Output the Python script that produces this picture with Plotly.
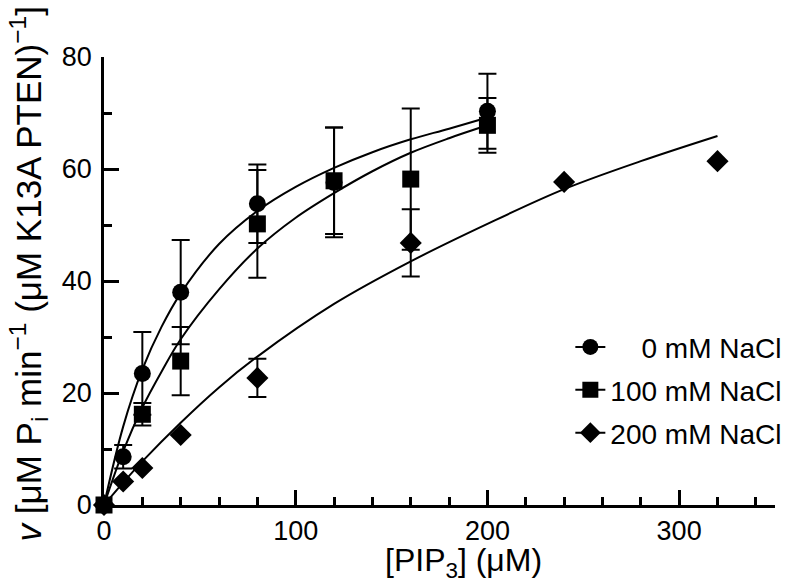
import plotly.graph_objects as go

conc_0 = [0, 10, 20, 40, 80, 120, 200]
v_0 = [0, 8.6, 23.5, 38.0, 53.8, 57.6, 70.3]
err_0 = [None, 2.1, 7.4, 9.3, 7.0, 9.8, 6.7]

conc_100 = [0, 20, 40, 80, 120, 160, 200]
v_100 = [0, 16.2, 25.7, 50.2, 57.9, 58.2, 67.8]
err_100 = [None, 2.0, 6.1, 9.6, 9.5, 12.6, 4.9]

conc_200 = [0, 10, 20, 40, 80, 160, 240, 320]
v_200 = [0, 4.2, 6.6, 12.5, 22.7, 46.8, 57.7, 61.4]
err_200 = [None, None, None, None, 3.4, 6.0, None, None]

# ---- fitted curves ----
fit_x_low = [0, 10, 20, 30, 40, 60, 80, 100, 120, 140, 160, 180, 200]
fit_0 = [0, 14.0, 24.2, 31.8, 37.8, 46.6, 52.5, 56.8, 60.2, 63.0, 65.3, 67.2, 69.2]
fit_100 = [0, 9.6, 17.4, 23.8, 29.6, 38.5, 45.8, 51.3, 55.7, 59.6, 62.9, 65.5, 67.8]
fit_x_200 = [0, 10, 20, 40, 60, 80, 120, 160, 200, 240, 280, 320]
fit_200 = [0, 4.0, 7.8, 14.7, 21.0, 26.5, 35.9, 43.5, 50.2, 56.4, 61.4, 65.9]

labels = ["\u00a0\u00a0\u00a0\u00a00 mM NaCl", "100 mM NaCl", "200 mM NaCl"]
symbols = ["circle", "square", "diamond"]

FONT = "Liberation Sans, Arial, sans-serif"
BLACK = "black"

fig = go.Figure()

# fitted curves
for fx, fy in [(fit_x_low, fit_0), (fit_x_low, fit_100), (fit_x_200, fit_200)]:
    fig.add_trace(go.Scatter(x=fx, y=fy, mode="lines",
                             line=dict(color=BLACK, width=2, shape="spline", smoothing=1.0),
                             showlegend=False, hoverinfo="skip"))

# data with error bars
for cx, vy, ey, sym in [(conc_0, v_0, err_0, "circle"),
                        (conc_100, v_100, err_100, "square"),
                        (conc_200, v_200, err_200, "diamond")]:
    fig.add_trace(go.Scatter(x=cx, y=vy, mode="markers",
                             marker=dict(symbol=sym, size=17, color=BLACK),
                             error_y=dict(type="data", array=ey, visible=True,
                                          color=BLACK, thickness=2, width=9),
                             cliponaxis=False, showlegend=False))

# legend entries
for i, (lab, sym) in enumerate(zip(labels, symbols)):
    fig.add_trace(go.Scatter(x=[None], y=[None], mode="lines+markers", name=lab,
                             legendgroup=f"g{i}",
                             marker=dict(symbol=sym, size=17, color=BLACK),
                             line=dict(color=BLACK, width=2)))

axis_common = dict(
    showline=True, linecolor=BLACK, linewidth=2.5,
    ticks="inside", tickcolor=BLACK, tickwidth=2.5, ticklen=15,
    showgrid=False, zeroline=False, automargin=False,
    tickfont=dict(family=FONT, size=27, color=BLACK),
)

fig.update_xaxes(range=[0, 350], tickvals=[0, 100, 200, 300],
                 minor=dict(dtick=20, tick0=0, ticks="inside", ticklen=8,
                            tickwidth=2.5, tickcolor=BLACK, showgrid=False),
                 ticklabelstandoff=0, **axis_common)
fig.update_yaxes(range=[0, 80], tickvals=[0, 20, 40, 60, 80],
                 minor=dict(dtick=10, tick0=0, ticks="inside", ticklen=8,
                            tickwidth=2.5, tickcolor=BLACK, showgrid=False),
                 ticklabelstandoff=4, **axis_common)

fig.add_annotation(text="[PIP<sub>3</sub>] (μM)", xref="paper", yref="paper",
                   x=0.5365, y=-0.128, xanchor="center", yanchor="middle",
                   showarrow=False, font=dict(family=FONT, size=32, color=BLACK))
fig.add_annotation(text="<i>v</i> [μM P<sub>i</sub> min<sup>−1</sup> (μM K13A PTEN)<sup>−1</sup>]",
                   xref="paper", yref="paper", x=-0.113, y=0.515,
                   xanchor="center", yanchor="middle", textangle=-90,
                   showarrow=False, font=dict(family=FONT, size=35, color=BLACK))

# the page body adds an 8px offset, so the figure is sized to fit the window
fig.update_layout(
    width=781, height=579,
    margin=dict(l=96, r=14, t=49, b=82, autoexpand=False),
    paper_bgcolor="white", plot_bgcolor="white",
    font=dict(family=FONT, color=BLACK),
    legend=dict(x=0.695, y=0.408, xanchor="left", yanchor="top",
                bgcolor="rgba(0,0,0,0)", borderwidth=0, tracegroupgap=3.5,
                font=dict(family=FONT, size=28, color=BLACK),
                itemclick=False),
)

fig.write_html("out.html")
